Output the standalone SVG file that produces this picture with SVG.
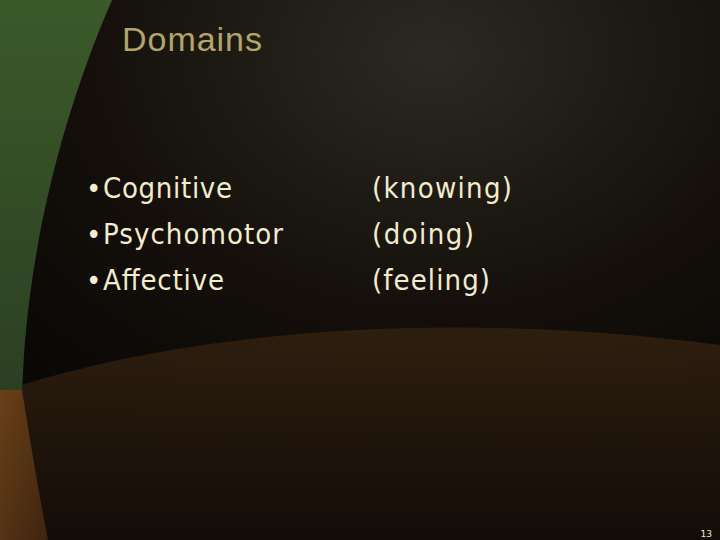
<svg xmlns="http://www.w3.org/2000/svg" width="720" height="540" viewBox="0 0 720 540">
<defs>
<radialGradient id="bg" cx="0.6" cy="0.1" r="0.8"><stop offset="0" stop-color="#2a2a22"/><stop offset="0.6" stop-color="#140f0a"/><stop offset="1" stop-color="#0a0806"/></radialGradient>
<linearGradient id="gr" x1="0" y1="0" x2="0" y2="1"><stop offset="0" stop-color="#3a5a2a"/><stop offset="1" stop-color="#2c3e22"/></linearGradient>
<linearGradient id="br" x1="0" y1="0" x2="0" y2="1"><stop offset="0" stop-color="#33210f"/><stop offset="1" stop-color="#150d08"/></linearGradient>
<linearGradient id="or" x1="0" y1="0" x2="1" y2="1"><stop offset="0" stop-color="#6a4018"/><stop offset="1" stop-color="#3e2410"/></linearGradient>
<style>.t{font-family:"DejaVu Sans Condensed","DejaVu Sans",sans-serif;font-size:29px;fill:#f3ebcd}</style>
</defs>
<rect width="720" height="540" fill="url(#bg)"/>
<path d="M0 0 H112 C60 120 25 260 22 400 H0 Z" fill="url(#gr)"/>
<path d="M22 385 C200 330 450 310 720 345 V540 H20 Z" fill="url(#br)" opacity="0.85"/>
<path d="M0 390 H22 C30 440 40 500 48 540 H0 Z" fill="url(#or)"/>
<text x="122" y="51" font-family="Liberation Sans, Arial, sans-serif" font-size="34" fill="#b3a56a" textLength="140">Domains</text>
<g id="list">
<text class="t" x="86" y="198">•</text><text class="t" x="103" y="198" textLength="129">Cognitive</text>
<text class="t" x="86" y="244">•</text><text class="t" x="103" y="244" textLength="180">Psychomotor</text>
<text class="t" x="86" y="290">•</text><text class="t" x="103" y="290" textLength="121">Affective</text>
<text class="t" x="372" y="198" textLength="140">(knowing)</text>
<text class="t" x="372" y="244" textLength="102">(doing)</text>
<text class="t" x="372" y="290" textLength="118">(feeling)</text>
</g>
<text x="712" y="537" font-family="DejaVu Sans, sans-serif" font-size="9" fill="#f3ebcd" text-anchor="end">13</text>
</svg>
